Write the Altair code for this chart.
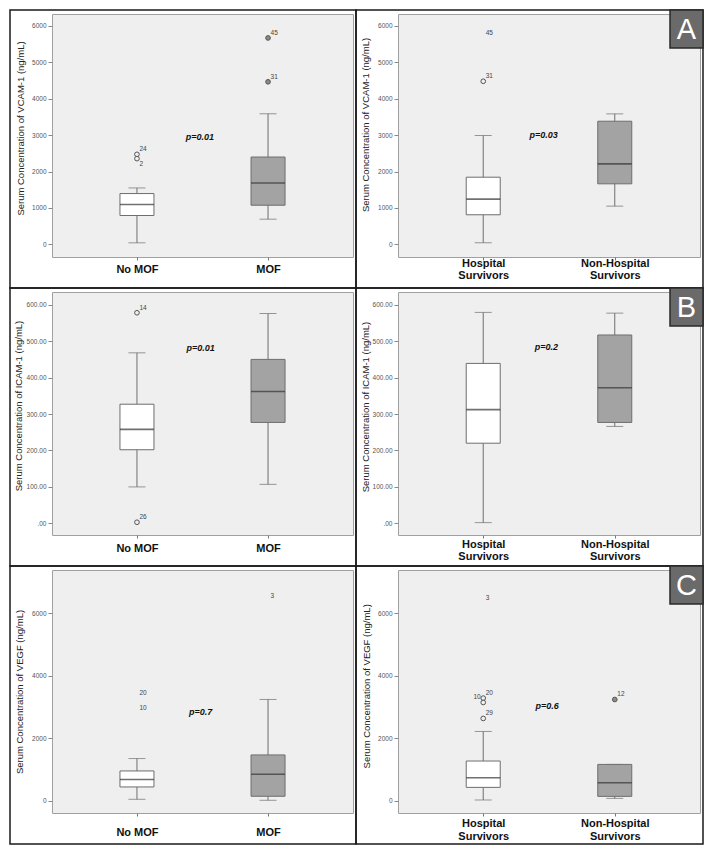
import json
import altair as alt
import pandas as pd

FONT = "Liberation Sans"

# ---------------- data ----------------
mof_groups = ["No MOF", "MOF"]
surv_groups = ["Hospital|Survivors", "Non-Hospital|Survivors"]

vcam_title = "Serum Concentration of VCAM-1 (ng/mL)"
icam_title = "Serum Concentration of ICAM-1 (ng/mL)"
vegf_title = "Serum Concentration of VEGF (ng/mL)"

vcam_ticks = [0, 1000, 2000, 3000, 4000, 5000, 6000]
icam_ticks = [0, 100, 200, 300, 400, 500, 600]
vegf_ticks = [0, 2000, 4000, 6000]

# Panel 1: VCAM-1 by MOF
vcam_mof_low = [44, 692]
vcam_mof_q1 = [793, 1075]
vcam_mof_med = [1094, 1685]
vcam_mof_q3 = [1395, 2397]
vcam_mof_high = [1549, 3584]
vcam_mof_out_grp = [1, 1, 2, 2]
vcam_mof_out_val = [2471, 2353, 5663, 4460]
vcam_mof_out_lab = ["24", "2", "45", "31"]
vcam_mof_out_style = ["open", "open", "filled", "filled"]
vcam_mof_out_pos = ["ur", "lr", "ur", "ur"]
vcam_mof_p = ["p=0.01", 1.48, 2960]

# Panel 2: VCAM-1 by hospital survival
vcam_surv_low = [46, 1050]
vcam_surv_q1 = [813, 1662]
vcam_surv_med = [1242, 2210]
vcam_surv_q3 = [1844, 3379]
vcam_surv_high = [2987, 3581]
vcam_surv_out_grp = [1, 1]
vcam_surv_out_val = [5672, 4475]
vcam_surv_out_lab = ["45", "31"]
vcam_surv_out_style = ["none", "open"]
vcam_surv_out_pos = ["ur", "ur"]
vcam_surv_p = ["p=0.03", 1.46, 2990]

# Panel 3: ICAM-1 by MOF
icam_mof_low = [100, 107]
icam_mof_q1 = [202, 277]
icam_mof_med = [258, 362]
icam_mof_q3 = [327, 450]
icam_mof_high = [468, 576]
icam_mof_out_grp = [1, 1]
icam_mof_out_val = [578, 3]
icam_mof_out_lab = ["14", "26"]
icam_mof_out_style = ["open", "open"]
icam_mof_out_pos = ["ur", "ur"]
icam_mof_p = ["p=0.01", 1.485, 482]

# Panel 4: ICAM-1 by hospital survival
icam_surv_low = [2, 266]
icam_surv_q1 = [220, 277]
icam_surv_med = [312, 372]
icam_surv_q3 = [439, 517]
icam_surv_high = [579, 577]
icam_surv_out_grp = []
icam_surv_out_val = []
icam_surv_out_lab = []
icam_surv_out_style = []
icam_surv_out_pos = []
icam_surv_p = ["p=0.2", 1.48, 484]

# Panel 5: VEGF by MOF
vegf_mof_low = [54, 22]
vegf_mof_q1 = [448, 150]
vegf_mof_med = [684, 854]
vegf_mof_q3 = [959, 1471]
vegf_mof_high = [1355, 3242]
vegf_mof_out_grp = [1, 1, 2]
vegf_mof_out_val = [3274, 2813, 6380]
vegf_mof_out_lab = ["20", "10", "3"]
vegf_mof_out_style = ["none", "none", "none"]
vegf_mof_out_pos = ["ur", "ur", "ur"]
vegf_mof_p = ["p=0.7", 1.485, 2845]

# Panel 6: VEGF by hospital survival
vegf_surv_low = [32, 83]
vegf_surv_q1 = [434, 147]
vegf_surv_med = [744, 584]
vegf_surv_q3 = [1276, 1168]
vegf_surv_high = [2220, 1168]
vegf_surv_out_grp = [1, 1, 1, 1, 2]
vegf_surv_out_val = [6330, 3285, 3146, 2636, 3241]
vegf_surv_out_lab = ["3", "20", "10", "29", "12"]
vegf_surv_out_style = ["none", "open", "open", "open", "filled"]
vegf_surv_out_pos = ["ur", "ur", "ul", "ur", "ur"]
vegf_surv_p = ["p=0.6", 1.485, 3030]

panel_letters = ["A", "B", "C"]

# ---------------- styling / layout ----------------
BG = "#efefef"
BOX_FILLS = ["#ffffff", "#a3a3a3"]
LINE = "#6e6e6e"
H, T, B = 243, 4, 31
L, R = 42, 3


def make_panel(groups, ytitle, yticks, ydom, icam, low, q1, med, q3, high,
               og, ov, ol, ostyle, opos, p, W, tpad, tshift, xpad,
               letter=None):
    xs = alt.Scale(domain=[0.39, 2.61], nice=False, zero=False)
    ys = alt.Scale(domain=ydom, nice=False, zero=False)
    label_expr = "split(datum.value == 1 ? %s : %s, '|')" % (
        json.dumps(groups[0]), json.dumps(groups[1]))
    xaxis = alt.Axis(values=[1, 2], labelExpr=label_expr, title="",
                     domain=False, grid=False, tickSize=3, tickColor="#777",
                     labelFontSize=11, labelFontWeight="bold", labelFont=FONT,
                     labelColor="#111", labelPadding=xpad, labelLineHeight=12.5,
                     labelAngle=0, labelFlush=False)
    yargs = dict(values=yticks, title=ytitle, titleFont=FONT, titleFontSize=9.5,
                 titleFontWeight="normal", titleColor="#222", titlePadding=tpad,
                 titleY=H / 2 - tshift,
                 labelFont=FONT, labelFontSize=6.5, labelColor="#555",
                 labelPadding=2, tickSize=4, tickColor="#888", domain=False,
                 grid=False)
    if icam:
        yargs["labelExpr"] = "datum.value == 0 ? '.00' : format(datum.value, '.2f')"
    else:
        yargs["format"] = "d"
    yaxis = alt.Axis(**yargs)

    def X(f):
        return alt.X(f, scale=xs, axis=xaxis)

    def Y(f):
        return alt.Y(f, scale=ys, axis=yaxis)

    box = pd.DataFrame({"x": [1, 2], "low": low, "q1": q1, "med": med,
                        "q3": q3, "high": high, "fill": BOX_FILLS})
    caps = pd.DataFrame({"x": [1, 2, 1, 2], "v": list(low) + list(high)})
    outl = pd.DataFrame({"x": og, "v": ov, "lab": ol, "style": ostyle,
                         "pos": opos})
    outl["fill"] = ["#8a8a8a" if s == "filled" else BG for s in ostyle]
    ptxt = pd.DataFrame({"t": [p[0]], "x": [p[1]], "v": [p[2]]})
    one = pd.DataFrame({"k": [0]})

    layers = []
    layers.append(alt.Chart(box).mark_rule(color=LINE, strokeWidth=1).encode(
        x=X("x:Q"), y=Y("low:Q"), y2="high:Q"))
    layers.append(alt.Chart(caps).mark_tick(
        orient="horizontal", size=17, thickness=1, color=LINE).encode(
        x=X("x:Q"), y=Y("v:Q")))
    layers.append(alt.Chart(box).mark_bar(
        size=34, stroke=LINE, strokeWidth=1).encode(
        x=X("x:Q"), y=Y("q1:Q"), y2="q3:Q",
        fill=alt.Fill("fill:N", scale=None)))
    layers.append(alt.Chart(box).mark_tick(
        orient="horizontal", size=34, thickness=1.6, color="#333").encode(
        x=X("x:Q"), y=Y("med:Q")))
    if len(og):
        layers.append(alt.Chart(outl).transform_filter(
            alt.datum.style != "none").mark_point(
            shape="circle", size=22, filled=True, stroke="#555",
            strokeWidth=1, opacity=1).encode(
            x=X("x:Q"), y=Y("v:Q"), fill=alt.Fill("fill:N", scale=None)))
        for pos, align, dx, dy in [("ur", "left", 2.5, -5),
                                   ("lr", "left", 2.5, 5),
                                   ("ul", "right", -2.5, -5)]:
            layers.append(alt.Chart(outl).transform_filter(
                alt.datum.pos == pos).mark_text(
                align=align, baseline="middle", dx=dx, dy=dy, fontSize=6.5,
                font=FONT, color="#444").encode(
                x=X("x:Q"), y=Y("v:Q"), text="lab:N"))
    layers.append(alt.Chart(ptxt).mark_text(
        fontSize=9, fontWeight="bold", fontStyle="italic", font=FONT,
        color="#111", align="center", baseline="middle").encode(
        x=X("x:Q"), y=Y("v:Q"), text="t:N"))
    # outer panel frame
    layers.append(alt.Chart(one).mark_rect(
        fillOpacity=0, stroke="#1a1a1a", strokeWidth=1.5).encode(
        x=alt.value(-L), x2=alt.value(W + R), y=alt.value(-T),
        y2=alt.value(H + B)))
    if letter is not None:
        lt = pd.DataFrame({"t": [letter]})
        layers.append(alt.Chart(lt).mark_rect(
            fill="#6a6a6a", stroke="#2a2a2a", strokeWidth=1.5).encode(
            x=alt.value(W - 30), x2=alt.value(W + R), y=alt.value(-T),
            y2=alt.value(34)))
        layers.append(alt.Chart(lt).mark_text(
            fontSize=29, font=FONT, color="#ffffff", align="center",
            baseline="middle").encode(
            x=alt.value(W - 13.5), y=alt.value(16), text="t:N"))
    return alt.layer(*layers).properties(width=W, height=H)


p1 = make_panel(mof_groups, vcam_title, vcam_ticks, [-345, 6320], False,
                vcam_mof_low, vcam_mof_q1, vcam_mof_med, vcam_mof_q3,
                vcam_mof_high, vcam_mof_out_grp, vcam_mof_out_val,
                vcam_mof_out_lab, vcam_mof_out_style, vcam_mof_out_pos,
                vcam_mof_p, W=301, tpad=6.2, tshift=7.5, xpad=3.9)
p2 = make_panel(surv_groups, vcam_title, vcam_ticks, [-345, 6320], False,
                vcam_surv_low, vcam_surv_q1, vcam_surv_med, vcam_surv_q3,
                vcam_surv_high, vcam_surv_out_grp, vcam_surv_out_val,
                vcam_surv_out_lab, vcam_surv_out_style, vcam_surv_out_pos,
                vcam_surv_p, W=302, tpad=7, tshift=11, xpad=-3,
                letter=panel_letters[0])
p3 = make_panel(mof_groups, icam_title, icam_ticks, [-32, 635], True,
                icam_mof_low, icam_mof_q1, icam_mof_med, icam_mof_q3,
                icam_mof_high, icam_mof_out_grp, icam_mof_out_val,
                icam_mof_out_lab, icam_mof_out_style, icam_mof_out_pos,
                icam_mof_p, W=301, tpad=3, tshift=8, xpad=4.6)
p4 = make_panel(surv_groups, icam_title, icam_ticks, [-32, 635], True,
                icam_surv_low, icam_surv_q1, icam_surv_med, icam_surv_q3,
                icam_surv_high, icam_surv_out_grp, icam_surv_out_val,
                icam_surv_out_lab, icam_surv_out_style, icam_surv_out_pos,
                icam_surv_p, W=302, tpad=2, tshift=7, xpad=0,
                letter=panel_letters[1])
p5 = make_panel(mof_groups, vegf_title, vegf_ticks, [-384, 7377], False,
                vegf_mof_low, vegf_mof_q1, vegf_mof_med, vegf_mof_q3,
                vegf_mof_high, vegf_mof_out_grp, vegf_mof_out_val,
                vegf_mof_out_lab, vegf_mof_out_style, vegf_mof_out_pos,
                vegf_mof_p, W=301, tpad=6.6, tshift=0, xpad=10.5)
p6 = make_panel(surv_groups, vegf_title, vegf_ticks, [-384, 7377], False,
                vegf_surv_low, vegf_surv_q1, vegf_surv_med, vegf_surv_q3,
                vegf_surv_high, vegf_surv_out_grp, vegf_surv_out_val,
                vegf_surv_out_lab, vegf_surv_out_style, vegf_surv_out_pos,
                vegf_surv_p, W=302, tpad=5.9, tshift=5.7, xpad=1.6,
                letter=panel_letters[2])

chart = alt.concat(
    p1, p2, p3, p4, p5, p6,
    columns=2,
    spacing={"row": 35, "column": 45},
    bounds="flush",
).properties(
    padding=0,
    background="#ffffff",
).configure_view(
    fill=BG, stroke="#a0a0a0", strokeWidth=1,
)

chart.save("out.html", embed_options={"renderer": "svg", "actions": False})
